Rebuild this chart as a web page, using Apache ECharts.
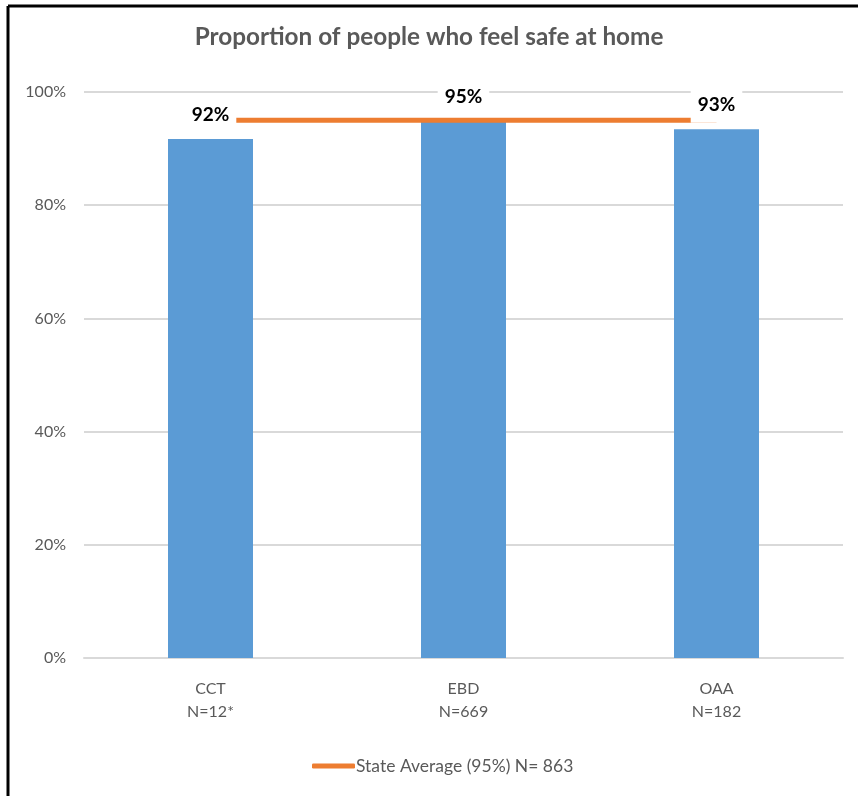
<!DOCTYPE html>
<html>
<head>
<meta charset="utf-8">
<script src="https://cdn.jsdelivr.net/npm/echarts@6/dist/echarts.min.js"></script>
<style>
html,body{margin:0;padding:0;background:#fff;}
#chart{width:858px;height:796px;}
</style>
</head>
<body>
<div id="chart"></div>
<script>
const categories = ['CCT\nN=12*', 'EBD\nN=669', 'OAA\nN=182'];
const proportions = [91.7, 94.8, 93.4];
const stateAverage = [95, 95, 95];
const stateName = 'State Average (95%) N= 863';
const titleText = 'Proportion of people who feel safe at home';
const yTicks = { min: 0, max: 100, interval: 20 };

const FONT = 'Lato, "Open Sans", sans-serif';
const chart = echarts.init(document.getElementById('chart'), null, { renderer: 'canvas' });
chart.setOption({
  backgroundColor: '#ffffff',
  animation: false,
  textStyle: { fontFamily: FONT },
  title: {
    text: titleText,
    left: 'center',
    top: 23,
    padding: 0,
    textStyle: { fontFamily: FONT, fontSize: 24.3, fontWeight: 'bold', color: '#595959', lineHeight: 28 }
  },
  graphic: [
    { type: 'line', shape: { x1: 8, y1: 6, x2: 858, y2: 6 }, style: { stroke: '#000', lineWidth: 3 }, z: 100 },
    { type: 'line', shape: { x1: 8, y1: 6, x2: 8, y2: 796 }, style: { stroke: '#000', lineWidth: 3 }, z: 100 }
  ],
  legend: {
    data: [{ name: stateName, icon: 'roundRect' }],
    left: 307,
    top: 752,
    itemWidth: 43,
    itemHeight: 5,
    itemGap: 10,
    textStyle: { fontFamily: FONT, fontSize: 17.5, color: '#595959', padding: [0, 0, 0, -4] }
  },
  grid: { left: 84, right: 15, top: 92, bottom: 138, containLabel: false },
  xAxis: {
    type: 'category',
    data: categories,
    boundaryGap: true,
    axisLine: { lineStyle: { color: '#d9d9d9', width: 2 } },
    axisTick: { show: false },
    axisLabel: { fontFamily: FONT, fontSize: 16, color: '#595959', lineHeight: 23, margin: 19 }
  },
  yAxis: {
    type: 'value',
    min: yTicks.min,
    max: yTicks.max,
    interval: yTicks.interval,
    axisLine: { show: false },
    axisTick: { show: false },
    splitLine: { lineStyle: { color: '#d9d9d9', width: 2 } },
    axisLabel: { fontFamily: FONT, fontSize: 16, color: '#595959', margin: 18, formatter: '{value}%' }
  },
  series: [
    {
      name: 'Proportion',
      type: 'bar',
      data: proportions,
      barWidth: 85,
      itemStyle: { color: '#5B9BD5' },
      z: 1
    },
    {
      name: stateName,
      type: 'line',
      data: stateAverage,
      symbol: 'none',
      lineStyle: { color: '#ED7D31', width: 5 },
      itemStyle: { color: '#ED7D31' },
      z: 2
    },
    {
      name: 'labels',
      type: 'scatter',
      data: proportions,
      symbolSize: 1,
      itemStyle: { color: 'rgba(0,0,0,0)', opacity: 1 },
      silent: true,
      z: 3,
      label: {
        show: true,
        position: 'top',
        distance: 6,
        formatter: p => Math.round(p.value) + '%',
        fontFamily: FONT,
        fontSize: 19,
        fontWeight: 'bold',
        color: '#000',
        lineHeight: 22,
        backgroundColor: '#ffffff',
        padding: [7, 7]
      }
    }
  ]
});
</script>
</body>
</html>
